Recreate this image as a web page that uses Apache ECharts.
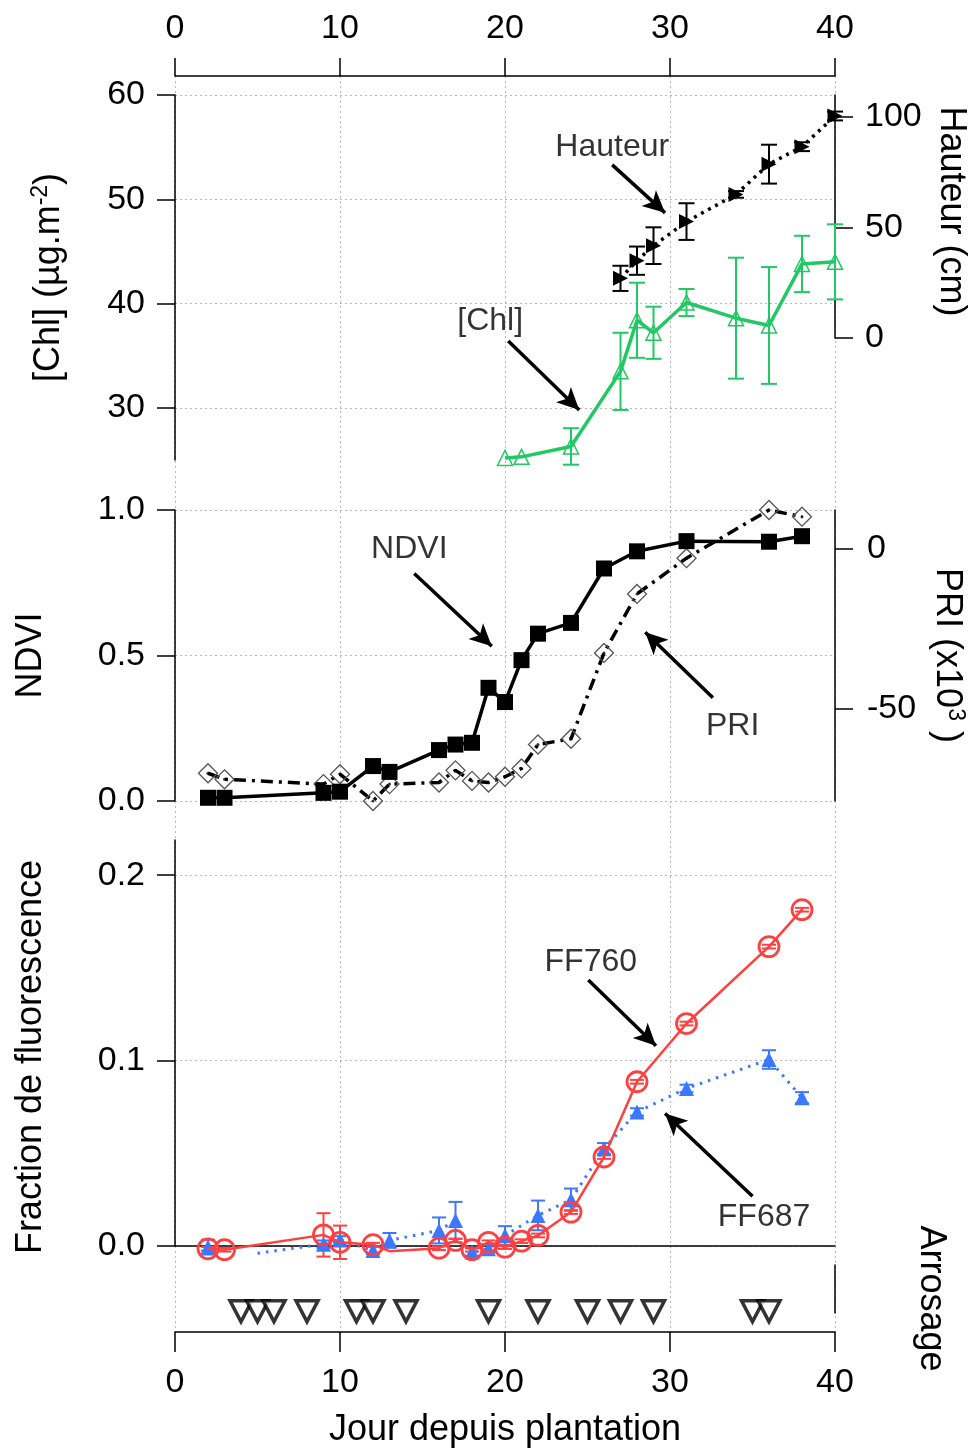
<!DOCTYPE html>
<html><head><meta charset="utf-8">
<script src="https://cdn.jsdelivr.net/npm/echarts@6/dist/echarts.min.js"></script>
<style>html,body{margin:0;padding:0;background:#fff}#c{width:976px;height:1450px}</style>
</head><body><div id="c"></div>
<script>
// ---------- DATA ----------
const xTicks = [0, 10, 20, 30, 40];
const chlDays   = [20, 21, 24, 27, 28, 29, 31, 34, 36, 38, 40];
const chlValues = [25.2, 25.3, 26.3, 33.5, 38.4, 37.2, 40.1, 38.6, 37.9, 43.8, 44.0];
const chlErrors = [0, 0, 1.75, 3.7, 3.6, 2.5, 1.3, 5.8, 5.6, 2.7, 3.6];
const chlTicks = [30, 40, 50, 60];

const heightDays   = [27, 28, 29, 31, 34, 36, 38, 40];
const heightValues = [27, 35, 41.8, 52.7, 65, 78.7, 86.6, 100.5];
const heightErrors = [5.7, 6.4, 8.3, 8.3, 1.5, 8.8, 2, 2];

const ndviDays   = [2, 3, 9, 10, 12, 13, 16, 17, 18, 19, 20, 21, 22, 24, 26, 28, 31, 36, 38];
const ndviValues = [0.011, 0.011, 0.028, 0.032, 0.12, 0.10, 0.175, 0.194, 0.20, 0.389, 0.34, 0.484, 0.575, 0.612, 0.799, 0.858, 0.893, 0.891, 0.91];
const ndviTicks = [0, 0.5, 1.0];

const priDays   = [2, 3, 9, 10, 12, 13, 16, 17, 18, 19, 20, 21, 22, 24, 26, 28, 31, 36, 38];
const priValues = [-70.3, -72.2, -73.7, -70.6, -79, -73.7, -73.2, -69.4, -72.7, -73.2, -71.4, -68.8, -61.3, -59.5, -32.6, -14.1, -2.9, 12.2, 10.1];
const priTicks = [0, -50];

const ff760Days   = [2, 3, 9, 10, 12, 13, 16, 17, 18, 19, 20, 21, 22, 24, 26, 28, 31, 36, 38];
const ff760Values = [-0.0015, -0.002, 0.006, 0.002, 0.0007, -0.0028, -0.0012, 0.003, -0.002, 0.002, -0.0006, 0.0026, 0.0057, 0.0183, 0.048, 0.0886, 0.120, 0.1615, 0.1814];
const ff760Errors = [0.001, 0.001, 0.0117, 0.009, 0.001, 0, 0.001, 0.001, 0.001, 0.001, 0.001, 0.001, 0.001, 0.001, 0.001, 0.001, 0.001, 0.001, 0.001];
const ff760NoMarkerDays = [13];

const ff687Days   = [2, 3, 5, 9, 10, 12, 13, 16, 17, 18, 19, 20, 22, 24, 26, 28, 31, 36, 38];
const ff687Values = [-0.0006, null, -0.0039, 0.001, 0.0033, -0.0024, 0.003, 0.0084, 0.0138, -0.0033, -0.0015, 0.0057, 0.0165, 0.025, 0.0525, 0.0723, 0.085, 0.1006, 0.080];
const ff687Errors = [0.004, 0, 0, 0.002, 0.002, 0.002, 0.004, 0.007, 0.01, 0.002, 0.002, 0.005, 0.008, 0.006, 0.003, 0.002, 0.002, 0.005, 0.003];
const ff687NoMarkerDays = [5];
const fluoTicks = [0, 0.1, 0.2];

const wateringDays = [4, 5, 6, 8, 11, 12, 14, 19, 22, 25, 27, 29, 35, 36];

// annotations: [text, textX, textY, arrowStartX, arrowStartY, arrowEndX, arrowEndY] (data coords)
const annotChl   = [['Hauteur', 26.5, 55.0, 26.5, 53.3, 29.7, 48.7], ['[Chl]', 19.1, 38.3, 20.2, 36.4, 24.5, 29.8]];
const annotNdvi  = [['NDVI', 14.2, 0.864, 14.5, 0.782, 19.2, 0.532], ['PRI', 33.8, 0.257, 32.6, 0.355, 28.5, 0.58]];
const annotFluo  = [['FF760', 25.2, 0.153, 25.05, 0.1435, 29.15, 0.108], ['FF687', 35.7, 0.0156, 35.0, 0.0268, 29.7, 0.0715]];

// ---------- STYLE ----------
const FONT = 'Liberation Sans, Arial, sans-serif';
const FS = 34;      // tick labels
const FT = 36;      // axis titles
const FA = 32;      // annotations
const GREEN = '#22c864', RED = '#ff4040', BLUE = '#3b78ff';
const GRIDC = '#b8b8b8';
const L = 175, R = 141;

const zip = (xs, ys, noMark) => xs.map((x, i) => {
  const v = [x, ys[i] === null ? '-' : ys[i]];
  return (noMark && noMark.indexOf(x) >= 0) ? { value: v, symbol: 'none' } : v;
});
const zip3 = (xs, ys, es) => xs.map((x, i) => [x, ys[i] === null ? '-' : ys[i], es[i]]);

function errSeries(xi, yi, data, color, cap, lw) {
  return {
    type: 'custom', xAxisIndex: xi, yAxisIndex: yi, clip: false, z: 3,
    data: data, encode: { x: 0, y: 1 }, silent: true,
    renderItem: function (params, api) {
      const x = api.value(0), y = api.value(1), e = api.value(2);
      if (!e || isNaN(y)) return null;
      const t = api.coord([x, y + e]), b = api.coord([x, y - e]);
      const st = { stroke: color, lineWidth: lw };
      return { type: 'group', children: [
        { type: 'line', shape: { x1: t[0], y1: t[1], x2: b[0], y2: b[1] }, style: st },
        { type: 'line', shape: { x1: t[0] - cap, y1: t[1], x2: t[0] + cap, y2: t[1] }, style: st },
        { type: 'line', shape: { x1: b[0] - cap, y1: b[1], x2: b[0] + cap, y2: b[1] }, style: st }
      ]};
    }
  };
}
function annotSeries(xi, yi, ann) {
  return [{
    type: 'scatter', xAxisIndex: xi, yAxisIndex: yi, symbolSize: 1, itemStyle: { color: 'rgba(0,0,0,0)' },
    silent: true, z: 10,
    data: ann.map(a => ({ value: [a[1], a[2]], name: a[0] })),
    label: { show: true, position: 'inside', formatter: p => p.name, color: '#000', fontSize: FA, fontFamily: FONT },
    markLine: {
      silent: true, symbol: ['none', 'arrow'], symbolSize: [16, 22],
      lineStyle: { color: '#000', width: 3.5, type: 'solid' }, label: { show: false },
      data: ann.map(a => [{ coord: [a[3], a[4]] }, { coord: [a[5], a[6]] }])
    }
  }];
}

const hiddenX = (gi) => ({ type: 'value', gridIndex: gi, min: 0, max: 40, show: false });
const axisLineStyle = { show: true, onZero: false, lineStyle: { color: '#000', width: 1.5 } };
const tickStyle = (vals) => ({ show: true, inside: false, length: 18, lineStyle: { color: '#000', width: 1.5 }, customValues: vals });
const labelStyle = (vals, margin) => ({ show: true, customValues: vals, color: '#000', fontSize: FS, fontFamily: FONT, margin: margin });
const dotted = { show: true, lineStyle: { color: GRIDC, type: [2, 3], width: 1 } };
const titleStyle = { color: '#000', fontSize: FT, fontFamily: FONT };
const supRich = { sup: { fontSize: 23, fontFamily: FONT, color: '#000', verticalAlign: 'top', lineHeight: 40 } };
const mkGrid = (top, height) => ({ left: L, right: R, top: top, height: height, containLabel: false, outerBoundsMode: 'none' });

const option = {
  backgroundColor: '#fff',
  animation: false,
  grid: [
    mkGrid(76, 1256),     // 0 background (vertical grid, top & bottom x axes)
    mkGrid(95, 365),      // 1 Chl
    mkGrid(95, 243),      // 2 Hauteur
    mkGrid(510, 291),     // 3 NDVI / PRI
    mkGrid(840, 406),     // 4 fluorescence
    mkGrid(1265, 67),     // 5 watering
    mkGrid(1265, 48)      // 6 watering right line
  ],
  xAxis: [
    { type: 'value', gridIndex: 0, position: 'top', min: 0, max: 40, interval: 10,
      axisLine: axisLineStyle, axisTick: { show: true, length: 18, lineStyle: { color: '#000', width: 1.5 } },
      axisLabel: { color: '#000', fontSize: FS, fontFamily: FONT, margin: 30 },
      splitLine: { show: false } },
    { type: 'value', gridIndex: 0, position: 'bottom', min: 0, max: 40, interval: 10,
      axisLine: axisLineStyle, axisTick: { show: true, length: 20, lineStyle: { color: '#000', width: 1.5 } },
      axisLabel: { color: '#000', fontSize: FS, fontFamily: FONT, margin: 34 },
      splitLine: dotted,
      name: 'Jour depuis plantation', nameLocation: 'middle', nameGap: 80,
      nameTextStyle: titleStyle },
    hiddenX(1), hiddenX(2), hiddenX(3),
    { type: 'value', gridIndex: 4, min: 0, max: 40, axisLine: { show: true, onZero: true, lineStyle: { color: '#000', width: 1.5 } },
      axisTick: { show: false }, axisLabel: { show: false }, splitLine: { show: false } },
    hiddenX(5), hiddenX(6)
  ],
  yAxis: [
    { type: 'value', gridIndex: 0, show: false, min: 0, max: 1 },
    // 1 Chl
    { type: 'value', gridIndex: 1, position: 'left', min: 25, max: 60,
      axisLine: axisLineStyle, axisTick: tickStyle(chlTicks), axisLabel: labelStyle(chlTicks, 30), splitLine: dotted,
      name: '[Chl] (µg.m{sup|-2})', nameLocation: 'middle', nameGap: 106, nameRotate: 90,
      nameTextStyle: Object.assign({ rich: supRich }, titleStyle) },
    // 2 Hauteur
    { type: 'value', gridIndex: 2, position: 'right', min: 0, max: 110, interval: 50,
      axisLine: axisLineStyle, axisTick: { show: true, length: 18, lineStyle: { color: '#000', width: 1.5 } },
      axisLabel: { color: '#000', fontSize: FS, fontFamily: FONT, margin: 30 }, splitLine: { show: false },
      name: 'Hauteur (cm)', nameLocation: 'middle', nameGap: 96, nameRotate: -90,
      nameTextStyle: Object.assign({ padding: [0, 10, 0, 0] }, titleStyle) },
    // 3 NDVI
    { type: 'value', gridIndex: 3, position: 'left', min: 0, max: 1,
      axisLine: axisLineStyle, axisTick: tickStyle(ndviTicks), axisLabel: Object.assign(labelStyle(ndviTicks, 30), { formatter: v => v.toFixed(1) }),
      splitLine: dotted,
      name: 'NDVI', nameLocation: 'middle', nameGap: 126, nameRotate: 90,
      nameTextStyle: titleStyle },
    // 4 PRI
    { type: 'value', gridIndex: 3, position: 'right', min: -79, max: 12.2,
      axisLine: axisLineStyle, axisTick: tickStyle(priTicks), axisLabel: labelStyle(priTicks, 32), splitLine: { show: false },
      name: 'PRI (x10{sup|3} )', nameLocation: 'middle', nameGap: 92, nameRotate: -90,
      nameTextStyle: Object.assign({ rich: supRich }, titleStyle) },
    // 5 fluorescence
    { type: 'value', gridIndex: 4, position: 'left', min: 0, max: 0.219,
      axisLine: axisLineStyle, axisTick: tickStyle(fluoTicks), axisLabel: Object.assign(labelStyle(fluoTicks, 30), { formatter: v => v.toFixed(1) }),
      splitLine: dotted,
      name: 'Fraction de fluorescence', nameLocation: 'middle', nameGap: 126, nameRotate: 90,
      nameTextStyle: Object.assign({ padding: [0, 28, 0, 0] }, titleStyle) },
    // 6 watering
    { type: 'value', gridIndex: 5, position: 'right', min: 0, max: 1, axisLine: { show: false, onZero: false }, axisTick: { show: false },
      axisLabel: { show: false }, splitLine: { show: false },
      name: 'Arrosage', nameLocation: 'middle', nameGap: 78, nameRotate: -90,
      nameTextStyle: titleStyle },
    // 7 watering right line
    { type: 'value', gridIndex: 6, position: 'right', min: 0, max: 1, axisLine: axisLineStyle, axisTick: { show: false },
      axisLabel: { show: false }, splitLine: { show: false } }
  ],
  series: [
    // Chl
    errSeries(2, 1, zip3(chlDays, chlValues, chlErrors), GREEN, 8, 2),
    { type: 'line', xAxisIndex: 2, yAxisIndex: 1, data: zip(chlDays, chlValues), clip: false, z: 4,
      symbol: 'triangle', symbolSize: 15, lineStyle: { color: GREEN, width: 3.5 },
      itemStyle: { color: 'rgba(0,0,0,0)', borderColor: GREEN, borderWidth: 1.5 } },
    // Hauteur
    errSeries(3, 2, zip3(heightDays, heightValues, heightErrors), '#000', 8, 2),
    { type: 'line', xAxisIndex: 3, yAxisIndex: 2, data: zip(heightDays, heightValues), clip: false, z: 4,
      symbol: 'triangle', symbolRotate: -90, symbolSize: 15, lineStyle: { color: '#000', width: 3.5, type: [3, 5] },
      itemStyle: { color: '#000' } },
    ...annotSeries(2, 1, annotChl),
    // NDVI
    { type: 'line', xAxisIndex: 4, yAxisIndex: 3, data: zip(ndviDays, ndviValues), clip: false, z: 5,
      symbol: 'rect', symbolSize: 16, lineStyle: { color: '#000', width: 3.5 }, itemStyle: { color: '#000' } },
    // PRI
    { type: 'line', xAxisIndex: 4, yAxisIndex: 4, data: zip(priDays, priValues), clip: false, z: 4,
      symbol: 'diamond', symbolSize: 19, lineStyle: { color: '#000', width: 3.5, type: [12, 6, 3, 6] },
      itemStyle: { color: 'rgba(255,255,255,0)', borderColor: '#555', borderWidth: 1.3 } },
    { type: 'scatter', xAxisIndex: 4, yAxisIndex: 4, data: zip(priDays, priValues), clip: false, z: 6,
      symbol: 'circle', symbolSize: 3, itemStyle: { color: '#000' } },
    ...annotSeries(4, 3, annotNdvi),
    // FF687
    errSeries(5, 5, zip3(ff687Days, ff687Values, ff687Errors), BLUE, 7, 2),
    { type: 'line', xAxisIndex: 5, yAxisIndex: 5, data: zip(ff687Days, ff687Values, ff687NoMarkerDays), clip: false, z: 4,
      symbol: 'triangle', symbolSize: 15, lineStyle: { color: BLUE, width: 3, type: [2.5, 6] }, itemStyle: { color: BLUE } },
    // FF760
    errSeries(5, 5, zip3(ff760Days, ff760Values, ff760Errors), RED, 7, 2),
    { type: 'line', xAxisIndex: 5, yAxisIndex: 5, data: zip(ff760Days, ff760Values, ff760NoMarkerDays), clip: false, z: 5,
      symbol: 'circle', symbolSize: 20, lineStyle: { color: RED, width: 2.5 },
      itemStyle: { color: 'rgba(0,0,0,0)', borderColor: RED, borderWidth: 2.8 } },
    ...annotSeries(5, 5, annotFluo),
    // watering
    { type: 'scatter', xAxisIndex: 6, yAxisIndex: 6, data: wateringDays.map(d => [d, 0.31]), clip: false,
      symbol: 'triangle', symbolRotate: 180, symbolSize: [22, 21],
      itemStyle: { color: '#fff', borderColor: '#000', borderWidth: 3.5 } }
  ]
};
const chart = echarts.init(document.getElementById('c'), null, { renderer: 'canvas' });
chart.setOption(option);
</script>
</body></html>
